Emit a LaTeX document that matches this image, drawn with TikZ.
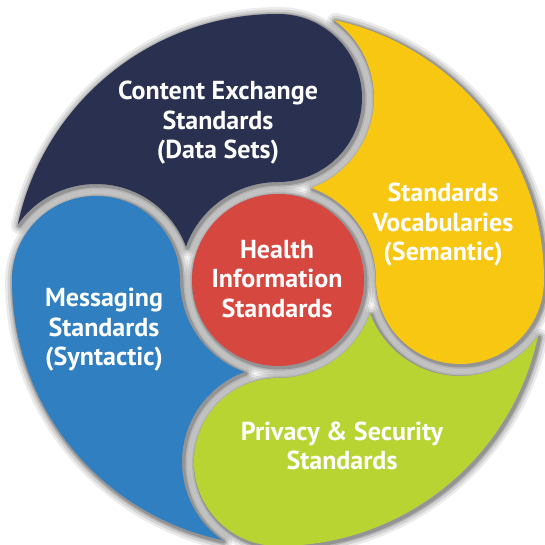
\documentclass[tikz,border=0pt]{standalone}
\usepackage{fontspec}
\setsansfont{PT Sans}
\usetikzlibrary{positioning}

\definecolor{dsnavy}{HTML}{2A3150}
\definecolor{vocyellow}{HTML}{F8C712}
\definecolor{privgreen}{HTML}{B7D433}
\definecolor{msgblue}{HTML}{2F7FC1}
\definecolor{healthred}{HTML}{D6473F}

% one petal: rim arc, tail along the next lobe, centre gap, own lobe
\newcommand{\petalpath}[1]{%
  (#1:\R) arc[start angle=#1, end angle=#1+77.875, radius=\R]
  arc[start angle=#1+54.41, end angle=#1-69.53, radius=\rOff]
  arc[start angle=#1+69.96, end angle=#1, radius=\rIn]
  arc[start angle=#1+180, end angle=#1+360, radius=\rLobe] -- cycle}

\begin{document}
\begin{tikzpicture}[x=1pt, y=1pt, line join=round]

  \def\R{266}
  \def\rRed{86}
  \def\rIn{98}
  \def\rLobe{84}
  \def\rOff{96}

  % Styles
  \tikzset{
    label-txt/.style={text=white, align=center,
      font=\sffamily\bfseries\fontsize{26}{29.5}\selectfont},
    soft-shadow/.style={black, line width=#1, shift={(1.5,-1.5)}},
  }

  \useasboundingbox (-278,-265) rectangle (267,280);

  % Shadows under the petals and the centre disc
  \foreach \ang in {0,90,180,270} {
    \foreach \w/\op in {17/0.08, 12/0.1, 7/0.14, 4/0.18} {
      \draw[soft-shadow=\w pt, opacity=\op] \petalpath{\ang};
    }
  }
  \foreach \w/\op in {17/0.08, 12/0.1, 7/0.14, 4/0.18} {
    \draw[soft-shadow=\w pt, opacity=\op] (0,0) circle[radius=\rRed];
  }

  % Petals
  \fill[dsnavy] \petalpath{90};
  \fill[msgblue] \petalpath{180};
  \fill[privgreen] \petalpath{270};
  \fill[vocyellow] \petalpath{0};
  \fill[healthred] (0,0) circle[radius=\rRed];

  % Labels
  \node[label-txt] (content) at (-60,157) {Content Exchange\\Standards\\(Data Sets)};
  \node[label-txt] (vocab) at (165,55) {Standards\\Vocabularies\\(Semantic)};
  \node[label-txt] (health) at (-1,1) {Health\\Information\\Standards};
  \node[label-txt] (messaging) at (-174,-50) {Messaging\\Standards\\(Syntactic)};
  \node[label-txt] (privacy) at (64,-166) {Privacy \& Security\\Standards};

\end{tikzpicture}
\end{document}
